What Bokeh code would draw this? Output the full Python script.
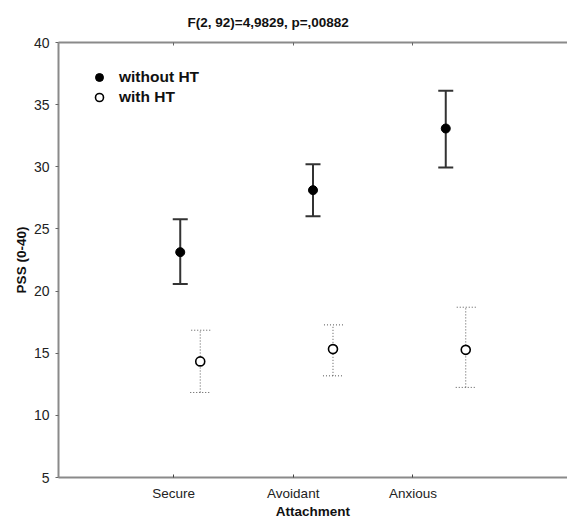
from bokeh.plotting import figure
from bokeh.layouts import row
from bokeh.models import (Range1d, Whisker, TeeHead, ColumnDataSource, LinearAxis,
                          FixedTicker, Legend, LegendItem, Title, Spacer)
from bokeh.embed import file_html
from bokeh.resources import INLINE

# ---- data ----
categories = ["Secure", "Avoidant", "Anxious"]
without_mean = [23.13, 28.12, 33.08]
without_upper = [25.78, 30.21, 36.11]
without_lower = [20.56, 26.03, 29.94]
with_mean = [14.34, 15.33, 15.27]
with_upper = [16.85, 17.28, 18.70]
with_lower = [11.84, 13.18, 12.25]
y_ticks = [5, 10, 15, 20, 25, 30, 35, 40]
title_text = "F(2, 92)=4,9829, p=,00882"

# ---- layout constants ----
tick_pos = [i + 1 for i in range(len(categories))]
pt_base, pt_step, dodge = 1.056, 1.109, 0.167
x_without = [pt_base + i * pt_step for i in range(len(categories))]
x_with = [x + dodge for x in x_without]

FONT = "Liberation Sans"
AX = "#8a8a8a"

fig = figure(frame_width=509, frame_height=435, output_backend="svg", toolbar_location=None,
             x_range=Range1d(0.039, 4.291), y_range=Range1d(5, 40),
             x_axis_type=None, y_axis_type=None,
             min_border_left=0, min_border_right=0, min_border_top=0,
             min_border_bottom=0)
fig.title = None
fig.outline_line_color = None
fig.xgrid.visible = False
fig.ygrid.visible = False
fig.background_fill_color = "white"

# top frame line (axis without labels) -- added first so it hugs the frame
top = LinearAxis(ticker=FixedTicker(ticks=tick_pos), major_label_text_font_size="0px",
                 major_label_text_color=None, axis_line_color=AX, axis_line_width=2,
                 major_tick_in=3, major_tick_out=0, major_tick_line_color="#666",
                 minor_tick_line_color=None, major_label_standoff=0)
fig.add_layout(top, "above")

# title
fig.add_layout(Title(text=title_text, align="left", offset=129, text_font=FONT,
                     text_font_size="13.5px", text_font_style="bold",
                     text_color="#111", standoff=25), "above")

# bottom axis
xa = LinearAxis(ticker=FixedTicker(ticks=tick_pos),
                major_label_overrides={t: c for t, c in zip(tick_pos, categories)},
                minor_tick_line_color=None, major_tick_in=3, major_tick_out=0,
                axis_line_color=AX, axis_line_width=2, major_tick_line_color="#444",
                major_label_text_font=FONT, major_label_text_font_size="13.5px",
                major_label_text_color="#222", major_label_standoff=8,
                axis_label="Attachment", axis_label_text_font=FONT,
                axis_label_text_font_size="13.5px", axis_label_text_font_style="bold",
                axis_label_text_color="#111", axis_label_standoff=0)
fig.add_layout(xa, "below")

# left axis
ya = LinearAxis(ticker=FixedTicker(ticks=y_ticks), minor_tick_line_color=None,
                major_tick_in=0, major_tick_out=3, axis_line_color=AX, axis_line_width=2,
                major_tick_line_color="#666", major_label_text_font=FONT,
                major_label_text_font_size="14px", major_label_text_color="#222",
                major_label_standoff=6, axis_label="PSS (0-40)", axis_label_text_font=FONT,
                axis_label_text_font_size="13.5px", axis_label_text_font_style="bold",
                axis_label_text_color="#111", axis_label_standoff=2)
fig.add_layout(ya, "left")

# error bars
src_wo = ColumnDataSource(dict(x=x_without, m=without_mean, lo=without_lower, hi=without_upper))
src_w = ColumnDataSource(dict(x=x_with, m=with_mean, lo=with_lower, hi=with_upper))

w1 = Whisker(source=src_wo, base="x", upper="hi", lower="lo", dimension="height",
             line_color="#333", line_width=2,
             upper_head=TeeHead(size=15, line_color="#333", line_width=2),
             lower_head=TeeHead(size=15, line_color="#333", line_width=2))
w2 = Whisker(source=src_w, base="x", upper="hi", lower="lo", dimension="height",
             line_color="#555", line_width=1, line_dash="1 2",
             upper_head=TeeHead(size=20, line_color="#555", line_width=1, line_dash="1 2"),
             lower_head=TeeHead(size=20, line_color="#555", line_width=1, line_dash="1 2"))
fig.add_layout(w1)
fig.add_layout(w2)

r1 = fig.scatter("x", "m", source=src_wo, size=9, marker="circle",
                 fill_color="black", line_color="black")
r2 = fig.scatter("x", "m", source=src_w, size=9, marker="circle",
                 fill_color="white", line_color="black", line_width=1.6)

legend = Legend(items=[LegendItem(label="without HT", renderers=[r1]),
                       LegendItem(label="with HT", renderers=[r2])],
                location="top_left", margin=25, padding=0, spacing=0,
                glyph_width=32, glyph_height=20, label_height=20, label_standoff=4,
                label_text_font=FONT, label_text_font_size="15.5px",
                label_text_font_style="bold", label_text_color="#111",
                border_line_color=None, background_fill_alpha=0)
fig.add_layout(legend, "center")

# shift the whole figure right to leave the left margin seen in the reference
p = row(Spacer(width=10, height=10), fig)

open("out.html", "w").write(file_html(p, INLINE))
